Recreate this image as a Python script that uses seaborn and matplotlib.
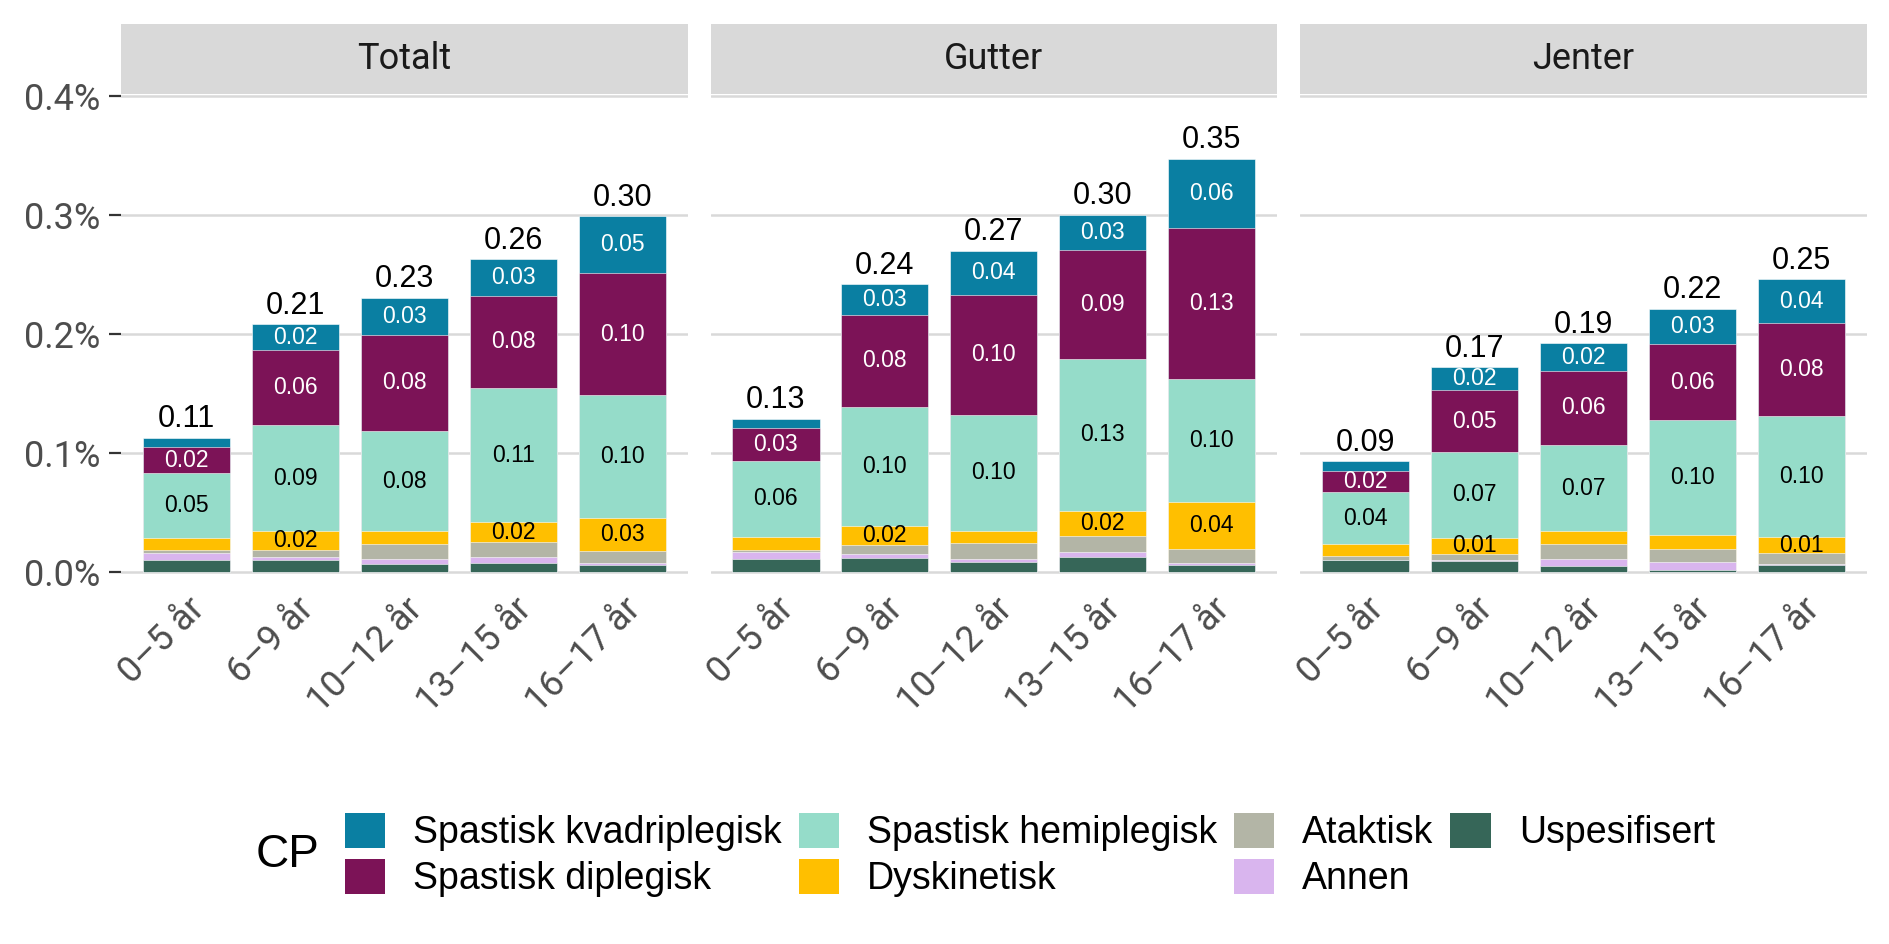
import numpy as np
import pandas as pd
import matplotlib
matplotlib.use("Agg")
import matplotlib.pyplot as plt
import seaborn as sns
from matplotlib.patches import Patch, Rectangle

# ---------------- data (values in percent) ----------------
panels = ["Totalt", "Gutter", "Jenter"]
ages = ["0–5 år", "6–9 år", "10–12 år", "13–15 år", "16–17 år"]
categories = ["Spastisk kvadriplegisk", "Spastisk diplegisk", "Spastisk hemiplegisk",
              "Dyskinetisk", "Ataktisk", "Annen", "Uspesifisert"]
# each list: Totalt (5 ages), Gutter (5 ages), Jenter (5 ages)
kvadri = [0.008, 0.022, 0.031, 0.031, 0.048,
          0.008, 0.026, 0.037, 0.030, 0.058,
          0.008, 0.019, 0.023, 0.030, 0.037]
dipl = [0.022, 0.063, 0.081, 0.077, 0.102,
        0.027, 0.077, 0.101, 0.091, 0.127,
        0.018, 0.052, 0.062, 0.064, 0.078]
hemi = [0.054, 0.089, 0.084, 0.113, 0.1035,
        0.064, 0.100, 0.097, 0.128, 0.103,
        0.044, 0.072, 0.073, 0.096, 0.1015]
dysk = [0.0105, 0.0153, 0.0106, 0.0167, 0.0275,
        0.0111, 0.0164, 0.0109, 0.0212, 0.0401,
        0.0094, 0.0139, 0.0103, 0.0122, 0.0139]
atak = [0.0025, 0.0061, 0.0130, 0.0123, 0.0100,
        0.0017, 0.0075, 0.0130, 0.0130, 0.0111,
        0.0036, 0.0047, 0.0130, 0.0111, 0.0092]
annen = [0.0056, 0.0025, 0.0039, 0.0048, 0.0019,
         0.0056, 0.0033, 0.0022, 0.0042, 0.0025,
         0.0005, 0.0014, 0.0061, 0.0064, 0.0003]
usp = [0.0103, 0.0103, 0.0069, 0.0080, 0.0061,
       0.0113, 0.0117, 0.0088, 0.0130, 0.0055,
       0.0097, 0.0089, 0.0047, 0.0017, 0.0061]
yticks = [0.0, 0.1, 0.2, 0.3, 0.4]
ytick_labels = ["0.0%", "0.1%", "0.2%", "0.3%", "0.4%"]

series = [kvadri, dipl, hemi, dysk, atak, annen, usp]
colors = ["#0A7FA2", "#7C1357", "#95DCC9", "#FFBF00", "#B3B5A6", "#D9B5EE", "#366658"]
text_colors = ["white", "white", "black", "black", "black", "black", "black"]

rows = []
for p_i, p in enumerate(panels):
    for a_i, a in enumerate(ages):
        for c, s in zip(categories, series):
            rows.append({"panel": p, "age": a, "cat": c, "value": s[p_i * 5 + a_i]})
df = pd.DataFrame(rows)

# ---------------- styling ----------------
sns.set_theme(style="white")
plt.rcParams['font.family'] = ['Roboto', 'DejaVu Sans']
label_font = ['Liberation Sans', 'DejaVu Sans']

fig, axes = plt.subplots(1, 3, figsize=(18.89, 9.44), dpi=100, sharey=True)
fig.subplots_adjust(left=0.0641, right=0.9881, bottom=0.3915, top=0.9002, wspace=0.0406)

strip_h = 0.1458
for ax, p in zip(axes, panels):
    sub = df[df.panel == p].copy()
    sub["cat"] = pd.Categorical(sub["cat"], categories=categories[::-1], ordered=True)
    sub = sub.sort_values(["age", "cat"])
    # cumulative from bottom (Uspesifisert) upward
    sub["top"] = sub.groupby("age", sort=False)["value"].cumsum()
    sub["bottom"] = sub["top"] - sub["value"]
    # draw from top category downward so lower ones overlay
    for c, col in zip(categories, colors):
        d = sub[sub.cat == c]
        sns.barplot(data=d, x="age", y="top", order=ages, color=col, saturation=1,
                    width=0.8, errorbar=None, ax=ax, edgecolor="white", linewidth=0.4,
                    zorder=2)
    # segment labels
    for c, tc in zip(categories, text_colors):
        d = sub[sub.cat == c]
        for _, r in d.iterrows():
            if r.value >= 0.0135:
                ax.text(ages.index(r.age), r.bottom + r.value / 2, f"{r.value:.2f}",
                        ha="center", va="center", fontsize=16.5, color=tc,
                        family=label_font, zorder=5)
    totals = sub.groupby("age")["value"].sum()
    for i, a in enumerate(ages):
        ax.text(i, totals[a] + 0.003, f"{totals[a]:.2f}", ha="center", va="bottom",
                fontsize=22, color="black", family=label_font, zorder=5)

    ax.set_xlim(-0.6, 4.6)
    ax.set_ylim(-0.002, 0.4015)
    ax.set_yticks(yticks)
    ax.set_yticklabels(ytick_labels)
    ax.yaxis.grid(True, color="#d9d9d9", lw=1.8)
    ax.xaxis.grid(False)
    ax.set_axisbelow(True)
    for s in ax.spines.values():
        s.set_visible(False)
    ax.set_xlabel("")
    ax.set_ylabel("")
    ax.set_xticks(range(len(ages)))
    ax.set_xticklabels(ages, rotation=45, ha="right", va="top", rotation_mode="anchor")
    ax.tick_params(axis="x", length=0, pad=12, labelsize=26, labelcolor="#4d4d4d")
    ax.add_patch(Rectangle((0, 1), 1, strip_h, transform=ax.transAxes, facecolor="#d9d9d9",
                           edgecolor="none", clip_on=False))
    ax.text(0.5, 1 + strip_h / 2, p, transform=ax.transAxes, ha="center", va="center",
            fontsize=26, color="#1a1a1a")

axes[0].tick_params(axis="y", left=True, length=8.3, width=1.6, color="#333333",
                    labelsize=26, labelcolor="#4d4d4d", pad=6.5)
for ax in axes[1:]:
    ax.tick_params(axis="y", left=False, labelleft=False)

handles = [Patch(facecolor=c, edgecolor="none") for c in colors]
fig.legend(handles, categories, loc="center left", bbox_to_anchor=(345 / 1889, 1 - 855 / 944),
           ncol=4, frameon=False, prop={"family": label_font, "size": 27},
           labelcolor="black",
           handlelength=1.07, handleheight=1.07, handletextpad=0.75, columnspacing=0.45,
           labelspacing=0.2, borderpad=0, borderaxespad=0)
fig.text(288 / 1889, 1 - 855 / 944, "CP", fontsize=33, family=label_font, ha="center",
         va="center", color="black")

fig.savefig("out.png", dpi=100)
